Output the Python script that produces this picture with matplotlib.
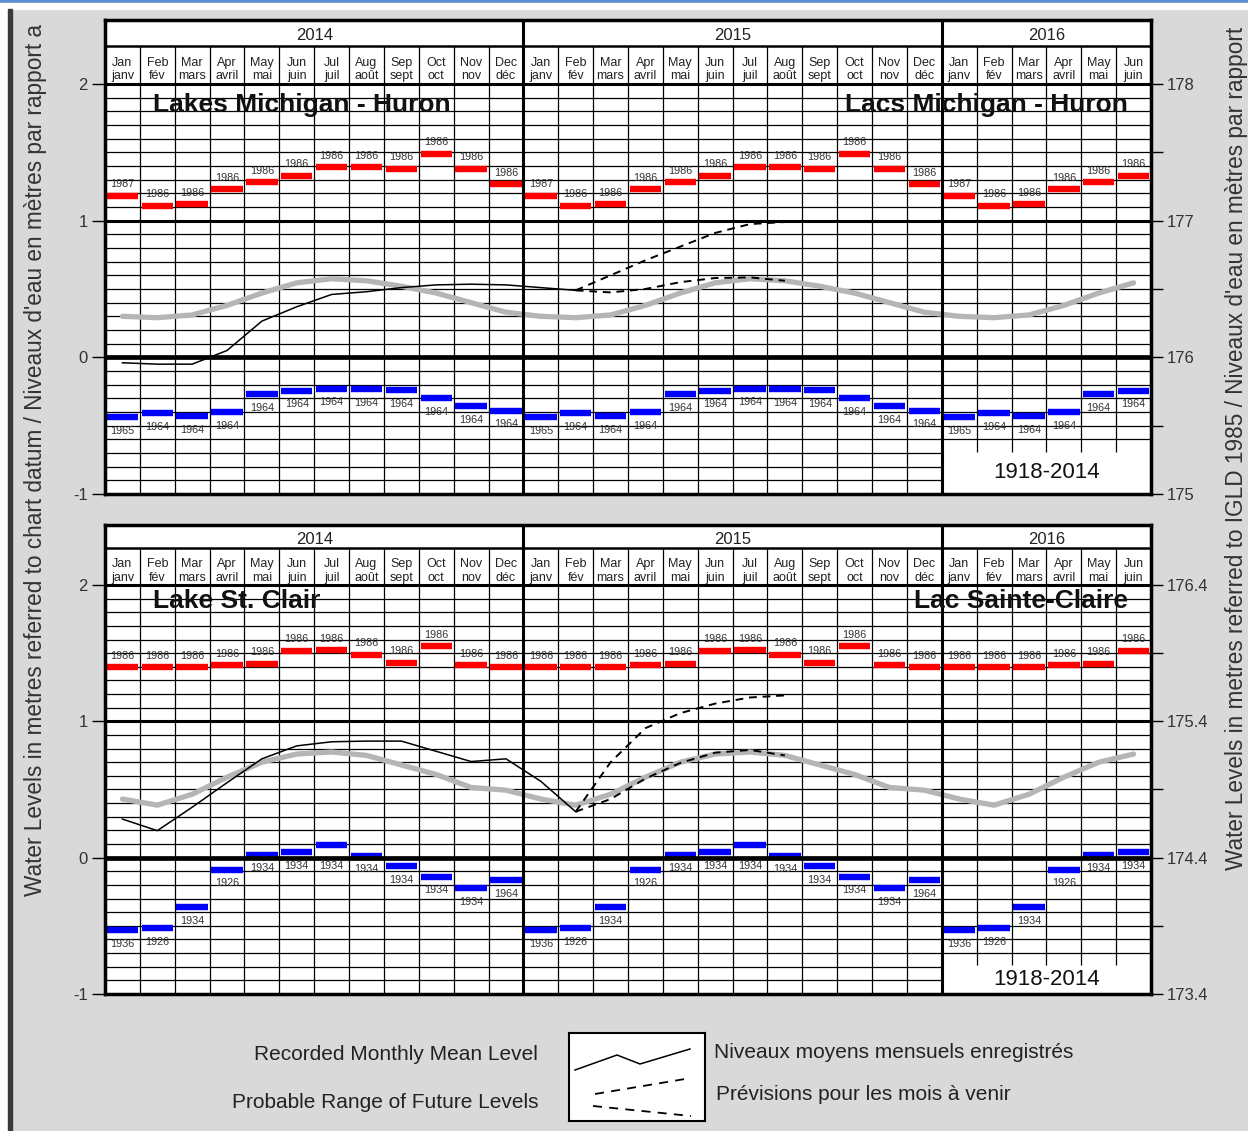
import numpy as np
import matplotlib
matplotlib.use('Agg')
import matplotlib.pyplot as plt
from matplotlib.patches import Rectangle

plt.rcParams['font.family'] = ['Liberation Sans', 'DejaVu Sans']

## --------------------------------------------------------------------------##
## ---------------------------------Data-------------------------------------##
## --------------------------------------------------------------------------##
month_en = ['Jan', 'Feb', 'Mar', 'Apr', 'May', 'Jun',
            'Jul', 'Aug', 'Sep', 'Oct', 'Nov', 'Dec']
month_fr = ['janv', 'fév', 'mars', 'avril', 'mai', 'juin',
            'juil', 'août', 'sept', 'oct', 'nov', 'déc']
year_names = ['2014', '2015', '2016']
months_in_year = [12, 12, 6]
record_period = '1918-2014'

# Lakes Michigan - Huron, metres above chart datum (datum = 176.0 m IGLD 1985)
mh_datum = 176.0
mh_max = [1.18, 1.11, 1.12, 1.23, 1.28, 1.33, 1.39, 1.39, 1.38, 1.49, 1.38, 1.265]
mh_max_year = ['1987', '1986', '1986', '1986', '1986', '1986',
               '1986', '1986', '1986', '1986', '1986', '1986']
mh_min = [-0.437, -0.41, -0.43, -0.40, -0.27, -0.245,
          -0.23, -0.235, -0.24, -0.30, -0.356, -0.39]
mh_min_year = ['1965', '1964', '1964', '1964', '1964', '1964',
               '1964', '1964', '1964', '1964', '1964', '1964']
mh_avg = [0.30, 0.29, 0.31, 0.38, 0.47, 0.545, 0.575, 0.56, 0.52, 0.47, 0.40, 0.33]
mh_recorded = [-0.04, -0.05, -0.05, 0.05, 0.265, 0.37, 0.46, 0.48, 0.51,
               0.53, 0.535, 0.53, 0.51, 0.49]          # Jan 2014 - Feb 2015
mh_fc_high = [0.49, 0.60, 0.71, 0.81, 0.91, 0.975, 0.99]  # Feb 2015 - Aug 2015
mh_fc_low = [0.49, 0.475, 0.50, 0.55, 0.58, 0.585, 0.56]

# Lake St. Clair, metres above chart datum (datum = 174.4 m IGLD 1985)
sc_datum = 174.4
sc_max = [1.395, 1.395, 1.395, 1.41, 1.42, 1.516, 1.52, 1.49, 1.43, 1.55, 1.41, 1.395]
sc_max_year = ['1986'] * 12
sc_min = [-0.53, -0.516, -0.364, -0.088, 0.022, 0.039,
          0.093, 0.015, -0.064, -0.139, -0.225, -0.166]
sc_min_year = ['1936', '1926', '1934', '1926', '1934', '1934',
               '1934', '1934', '1934', '1934', '1934', '1964']
sc_avg = [0.43, 0.385, 0.465, 0.59, 0.70, 0.76, 0.775, 0.75, 0.68, 0.61, 0.515, 0.495]
sc_recorded = [0.283, 0.198, 0.37, 0.55, 0.725, 0.82, 0.85, 0.855, 0.855,
               0.78, 0.705, 0.725, 0.56, 0.337]
sc_fc_high = [0.337, 0.70, 0.95, 1.06, 1.13, 1.175, 1.19]
sc_fc_low = [0.337, 0.43, 0.58, 0.695, 0.77, 0.79, 0.75]


## --------------------------------------------------------------------------##
## -------------------------------Functions----------------------------------##
## --------------------------------------------------------------------------##
W, H = 1248, 1131


def fig_box(x0, y0, x1, y1):
    # pixel box (top-left origin) -> figure fraction [left, bottom, width, height]
    return [x0 / W, 1 - y1 / H, (x1 - x0) / W, (y1 - y0) / H]


def draw_panel(ax, ymax, split, cutoff, datum, rec_max, rec_max_yr, rec_min,
               rec_min_yr, avg, recorded, fc_high, fc_low, title_en, title_fr,
               title_y):
    n = sum(months_in_year)
    year_start = np.cumsum([0] + months_in_year)
    ax.set_xlim(0, n)
    ax.set_ylim(-1, ymax)
    ax.set_facecolor('white')

    # horizontal grid, every 0.1 m
    for k in range(-9, 21):
        y = k / 10
        lw, z = 0.9, 2
        if k in (10, 20):
            lw, z = 2.2, 6
        elif k == 0:
            lw, z = 3.4, 6
        x_end = n if y >= cutoff - 1e-9 else year_start[2]
        ax.hlines(y, 0, x_end, colors='black', lw=lw, zorder=z)
    ax.hlines(split, 0, n, colors='black', lw=1.8, zorder=2)

    # vertical lines: months thin, years thick
    for i in range(1, n):
        if i in year_start:
            ax.vlines(i, -1, ymax, colors='black', lw=2.2, zorder=6)
        else:
            y0 = -1 if i < year_start[2] else cutoff - 0.09
            ax.vlines(i, y0, split, colors='black', lw=0.9, zorder=2)

    # header text
    for j, yn in enumerate(year_names):
        xc = (year_start[j] + year_start[j + 1]) / 2
        ax.text(xc, (split + ymax) / 2 - 0.02, yn, ha='center', va='center',
                fontsize=12, color='#222222')
    for i in range(n):
        m = i % 12
        ax.text(i + 0.5, 2 + (split - 2) * 0.56, month_en[m], ha='center',
                va='center', fontsize=9, color='#222222')
        ax.text(i + 0.5, 2 + (split - 2) * 0.2, month_fr[m], ha='center',
                va='center', fontsize=9, color='#222222')

    # records
    xs = np.arange(n)
    cal = xs % 12
    ax.hlines(np.array(rec_max)[cal], xs + 0.05, xs + 0.95, colors='#ff0000',
              lw=4.6, capstyle='butt', zorder=5)
    ax.hlines(np.array(rec_min)[cal], xs + 0.05, xs + 0.95, colors='#0000ff',
              lw=4.6, capstyle='butt', zorder=5)
    for i in range(n):
        m = i % 12
        ax.text(i + 0.5, rec_max[m] + 0.085, rec_max_yr[m], ha='center',
                va='center', fontsize=7.8, color='#333333', zorder=7)
        # keep the low-record year clear of the thick zero line
        y_lab = min(rec_min[m] - 0.1, -0.06)
        ax.text(i + 0.5, y_lab, rec_min_yr[m], ha='center',
                va='center', fontsize=7.8, color='#333333', zorder=7)

    # long term average, recorded levels and forecast
    ax.plot(xs + 0.5, np.array(avg)[cal], color='#b5b5b5', lw=3.8,
            solid_capstyle='round', zorder=3)
    x_rec = np.arange(len(recorded)) + 0.5
    ax.plot(x_rec, recorded, color='black', lw=1.1, zorder=4)
    x_fc = np.arange(len(fc_high)) + len(recorded) - 1 + 0.5
    ax.plot(x_fc, fc_high, color='black', lw=1.4, dashes=(4, 3), zorder=4)
    ax.plot(x_fc, fc_low, color='black', lw=1.4, dashes=(4, 3), zorder=4)

    # titles
    ax.text(1.38, title_y, title_en, ha='left', va='center', fontsize=19,
            fontweight='bold', color='#111111', zorder=8)
    ax.text(29.35, title_y, title_fr, ha='right', va='center', fontsize=19,
            fontweight='bold', color='#111111', zorder=8)
    ax.text((year_start[2] + n) / 2, (cutoff - 0.09 - 1) / 2, record_period,
            ha='center', va='center', fontsize=16, color='#111111', zorder=8)

    # left axis
    ax.set_xticks([])
    ax.set_yticks([-1, 0, 1, 2])
    ax.set_yticklabels(['-1', '0', '1', '2'])
    ax.tick_params(axis='y', length=9.4, width=1.0, direction='out',
                   labelsize=12, labelcolor='#333333', pad=3)
    for s in ax.spines.values():
        s.set_linewidth(2.5)
        s.set_zorder(10)

    # right axis (IGLD 1985)
    ax2 = ax.twinx()
    ax2.set_ylim(-1 + datum, ymax + datum)
    major = datum + np.array([-1, 0, 1, 2])
    ax2.set_yticks(major)
    ax2.set_yticklabels([f'{v:g}' for v in major])
    ax2.set_yticks(datum + np.array([-0.5, 0.5, 1.5]), minor=True)
    ax2.tick_params(which='both', length=8.6, width=1.0, direction='out',
                    labelsize=12, labelcolor='#333333', pad=3)
    for s in ax2.spines.values():
        s.set_visible(False)


## --------------------------------------------------------------------------##
## ---------------------------------Figure-----------------------------------##
## --------------------------------------------------------------------------##
fig = plt.figure(figsize=(W / 100, H / 100), dpi=100, facecolor='#d9d9d9')

# page decorations
fig.patches.append(Rectangle((0, 1 - 3 / H), 1, 3 / H, transform=fig.transFigure,
                             color='#5b8fd0', zorder=0))
fig.patches.append(Rectangle((0, 1 - 9 / H), 1, 6 / H, transform=fig.transFigure,
                             color='white', zorder=0))
fig.patches.append(Rectangle((0, 0), 8 / W, 1 - 9 / H, transform=fig.transFigure,
                             color='white', zorder=0))
fig.patches.append(Rectangle((8 / W, 0), 4 / W, 1 - 9 / H, transform=fig.transFigure,
                             color='#3a3a3a', zorder=0))

ax_top = fig.add_axes(fig_box(105, 20, 1151, 494))
draw_panel(ax_top, 2.468, 2.278, -0.6, mh_datum, mh_max, mh_max_year, mh_min,
           mh_min_year, mh_avg, mh_recorded, mh_fc_high, mh_fc_low,
           'Lakes Michigan - Huron', 'Lacs Michigan - Huron', 1.846)

ax_bot = fig.add_axes(fig_box(105, 525, 1151, 994))
draw_panel(ax_bot, 2.44, 2.27, -0.7, sc_datum, sc_max, sc_max_year, sc_min,
           sc_min_year, sc_avg, sc_recorded, sc_fc_high, sc_fc_low,
           'Lake St. Clair', 'Lac Sainte-Claire', 1.883)

# axis titles, as much of them as the page shows
fig.text(36 / W, 1 - 896 / H,
         "Water Levels in metres referred to chart datum / "
         "Niveaux d'eau en mètres par rapport a",
         rotation=90, ha='center', va='bottom', fontsize=16.3, color='#333333')
fig.text(1237 / W, 1 - 870 / H,
         "Water Levels in metres referred to IGLD 1985 / "
         "Niveaux d'eau en mètres par rapport",
         rotation=90, ha='center', va='bottom', fontsize=16.3, color='#333333')

## --------------------------------Legend------------------------------------##
lax = fig.add_axes(fig_box(569, 1033, 705, 1121))
lax.set_xlim(0, 136)
lax.set_ylim(88, 0)
lax.set_xticks([])
lax.set_yticks([])
for s in lax.spines.values():
    s.set_linewidth(1.5)
lax.plot([6, 48, 71, 121], [37, 22, 31, 16], color='black', lw=1.1)
lax.plot([26, 122], [61, 45], color='black', lw=1.3, dashes=(5, 4))
lax.plot([24, 122], [73, 83], color='black', lw=1.3, dashes=(5, 4))

fig.text(538 / W, 1 - 1055 / H, 'Recorded Monthly Mean Level', ha='right',
         va='center', fontsize=15, color='#222222')
fig.text(538 / W, 1 - 1102 / H, 'Probable Range of Future Levels', ha='right',
         va='center', fontsize=15, color='#222222')
fig.text(714 / W, 1 - 1052 / H, 'Niveaux moyens mensuels enregistrés', ha='left',
         va='center', fontsize=15, color='#222222')
fig.text(716 / W, 1 - 1094 / H, 'Prévisions pour les mois à venir', ha='left',
         va='center', fontsize=15, color='#222222')

fig.savefig('out.png', dpi=100, facecolor=fig.get_facecolor())
